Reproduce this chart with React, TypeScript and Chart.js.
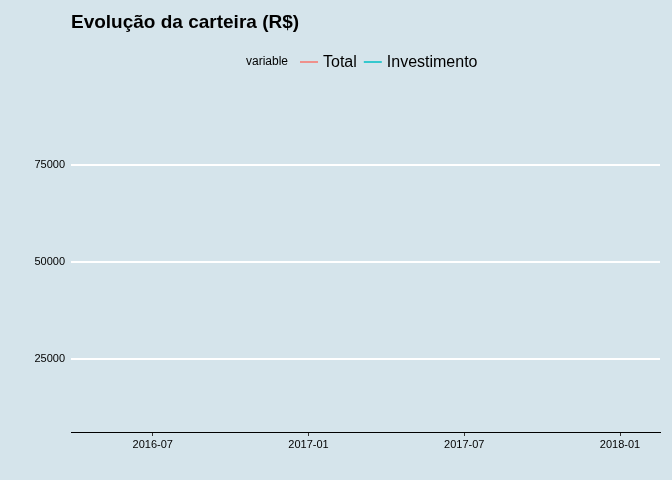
import React, { useEffect, useRef } from 'react';
import { Chart, registerables } from 'chart.js';

Chart.register(...registerables);

// months counted from 2016-01 (index 0)
const xTickMonths = [6, 12, 18, 24];
const xTickLabels = ['2016-07', '2017-01', '2017-07', '2018-01'];
const yTicks = [25000, 50000, 75000];
// the reference draws no visible line for either series
const totalValues: { x: number; y: number }[] = [];
const investimentoValues: { x: number; y: number }[] = [];
const seriesNames = ['Total', 'Investimento'];
const seriesColors = ['#F8766D', '#00BFC4'];

const FONT = '"Liberation Sans", Arial, sans-serif';

const overlay = {
  id: 'overlay',
  afterDraw(chart: Chart) {
    const ctx = chart.ctx;
    ctx.save();
    ctx.fillStyle = '#000';
    ctx.textBaseline = 'middle';
    ctx.font = `bold 19px ${FONT}`;
    ctx.fillText('Evolução da carteira (R$)', 71, 23);
    ctx.font = `12px ${FONT}`;
    ctx.fillText('variable', 246, 62);
    ctx.font = `16px ${FONT}`;
    let x = 300;
    seriesNames.forEach((name, i) => {
      ctx.strokeStyle = seriesColors[i];
      ctx.lineWidth = 1.5;
      ctx.beginPath();
      ctx.moveTo(x, 62);
      ctx.lineTo(x + 18, 62);
      ctx.stroke();
      ctx.fillText(name, x + 23, 63);
      x += 23 + ctx.measureText(name).width + 7;
    });
    ctx.restore();
  }
};

export default function App() {
  const ref = useRef<HTMLCanvasElement>(null);
  useEffect(() => {
    document.body.style.margin = '0';
    document.body.style.background = '#d5e4eb';
    const chart = new Chart(ref.current!, {
      type: 'line',
      data: {
        datasets: [
          { label: seriesNames[0], data: totalValues, borderColor: seriesColors[0], pointRadius: 0 },
          { label: seriesNames[1], data: investimentoValues, borderColor: seriesColors[1], pointRadius: 0 }
        ]
      },
      options: {
        animation: false,
        responsive: false,
        layout: { padding: { top: 90, right: 12, left: 0, bottom: 0 } },
        plugins: { legend: { display: false }, tooltip: { enabled: false } },
        scales: {
          x: {
            type: 'linear',
            min: 2.85,
            max: 25.54,
            afterBuildTicks: (s: any) => { s.ticks = xTickMonths.map((v) => ({ value: v })); },
            afterFit: (s: any) => { s.height = 48; },
            ticks: {
              color: '#000',
              font: { family: FONT, size: 11 },
              padding: 2,
              maxRotation: 0,
              callback: (v: any) => xTickLabels[xTickMonths.indexOf(Number(v))] ?? ''
            },
            grid: { display: true, drawOnChartArea: false, tickLength: 4, color: '#333' },
            border: { display: true, color: '#000', width: 1 }
          },
          y: {
            min: 6186,
            max: 94330,
            afterBuildTicks: (s: any) => { s.ticks = yTicks.map((v) => ({ value: v })); },
            afterFit: (s: any) => { s.width = 71; },
            ticks: { color: '#000', font: { family: FONT, size: 11 }, padding: 6, callback: (v: any) => String(v) },
            grid: { color: '#ffffff', lineWidth: 2, drawTicks: false },
            border: { display: false }
          }
        }
      },
      plugins: [overlay]
    });
    return () => chart.destroy();
  }, []);
  return <canvas ref={ref} width={672} height={480} style={{ display: 'block', background: '#d5e4eb' }} />;
}
